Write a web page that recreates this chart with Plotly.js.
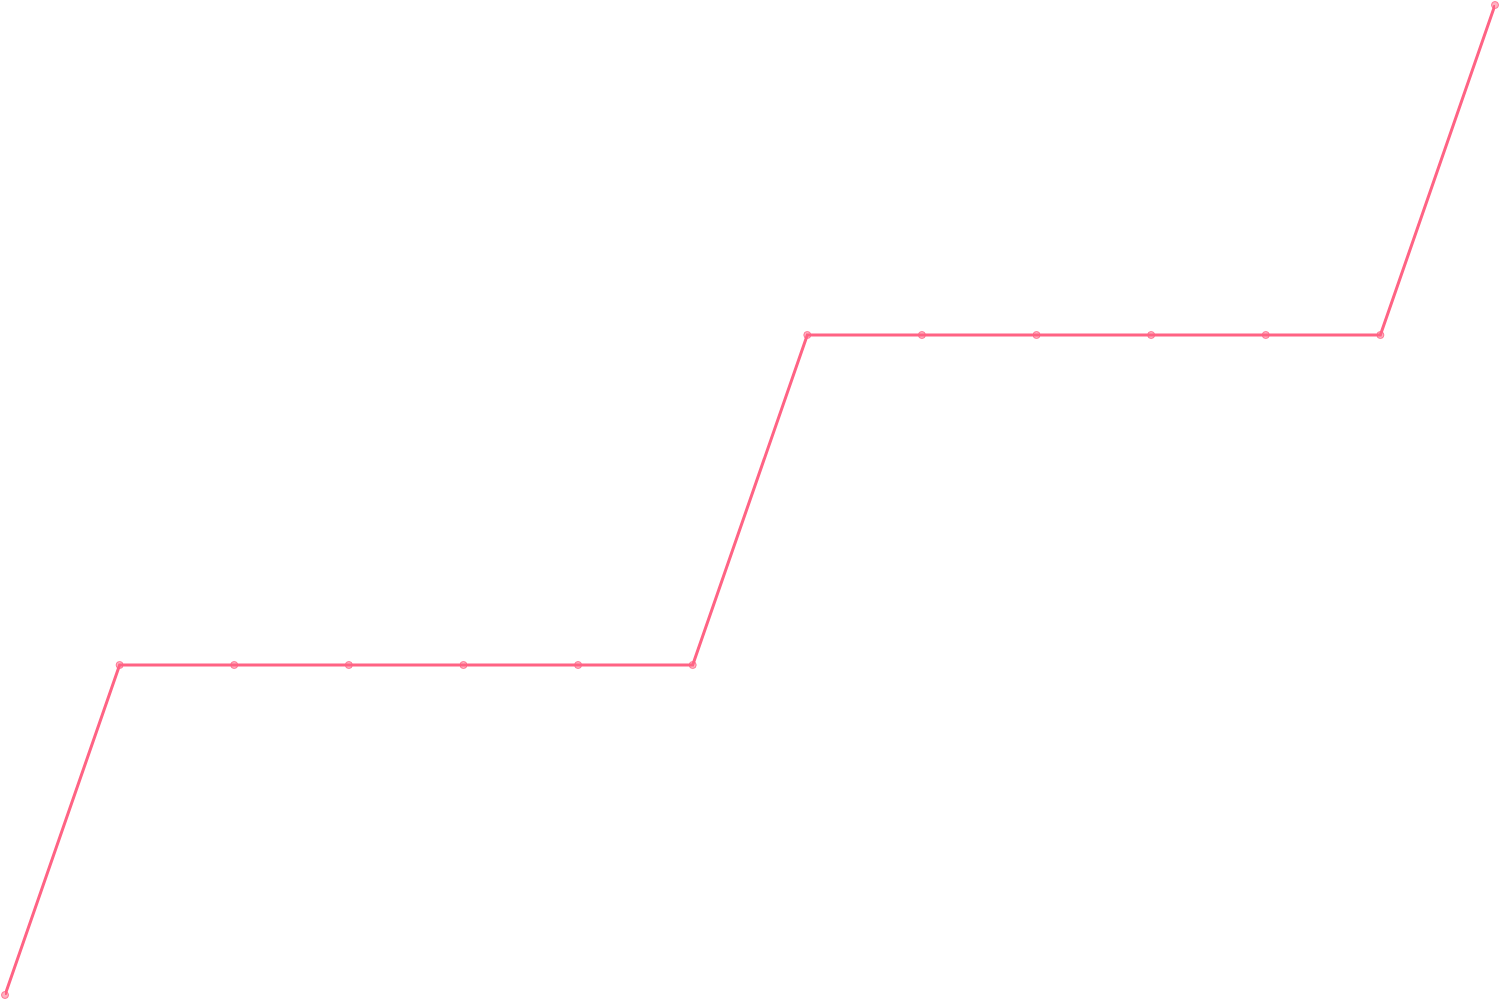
<!DOCTYPE html>
<html>
<head>
<meta charset="utf-8">
<script src="https://cdn.plot.ly/plotly-3.0.1.min.js"></script>
<style>
  html, body { margin: 0; padding: 0; background: #fff; }
  #chart { width: 1500px; height: 1000px; }
</style>
</head>
<body>
<div id="chart"></div>
<script>
// step counts
var steps = [0, 1, 2, 3, 4, 5, 6, 7, 8, 9, 10, 11, 12, 13];
var levels = [0, 1, 1, 1, 1, 1, 1, 2, 2, 2, 2, 2, 2, 3];

var data = [
  {
    x: steps,
    y: levels,
    type: 'scatter',
    mode: 'lines+markers',
    line: { color: 'rgb(255, 99, 132)', width: 3 },   // chartjs pink
    marker: {
      color: 'rgba(255, 99, 132, 0.5)',
      size: 7,
      line: { color: 'rgba(255, 99, 132, 0.8)', width: 1 }
    },
    cliponaxis: false
  }
];

var layout = {
  showlegend: false,
  width: 1500,
  height: 1000,
  margin: { l: 5, r: 5, b: 5, t: 5, pad: 0 },   // plot fills the page
  paper_bgcolor: '#fff',
  plot_bgcolor: '#fff',
  xaxis: { range: [0, 13], visible: false, showgrid: false, zeroline: false },
  yaxis: { range: [0, 3], visible: false, showgrid: false, zeroline: false }
};

var options = { staticPlot: true };

Plotly.newPlot('chart', data, layout, options);
</script>
</body>
</html>
